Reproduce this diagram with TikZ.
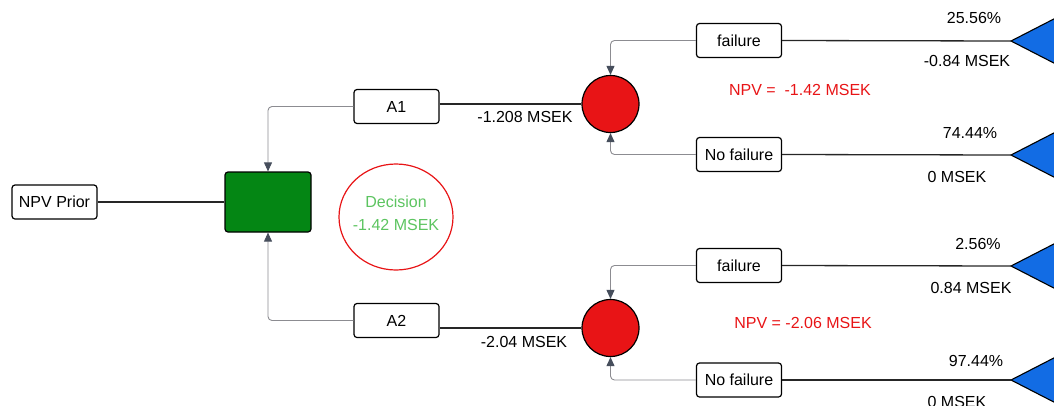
\documentclass[tikz,border=0pt]{standalone}
\usepackage{fontspec}
\setmainfont{Liberation Sans}
\usetikzlibrary{arrows.meta,shapes.geometric}
\definecolor{decgreen}{RGB}{4,134,20}
\definecolor{chancered}{RGB}{232,20,22}
\definecolor{leafblue}{RGB}{18,108,228}
\definecolor{linkgrey}{RGB}{140,140,145}
\definecolor{tipgrey}{RGB}{70,78,92}
\definecolor{txtgreen}{RGB}{92,196,96}
\tikzset{
  box/.style={draw=black, line width=1.2pt, rounded corners=3pt, fill=white,
    minimum width=85pt, minimum height=34pt, inner sep=0pt, font=\fontsize{16}{19}\selectfont},
  branch/.style={draw=black!85, line width=1.3pt},
  link/.style={draw=linkgrey, line width=0.9pt, rounded corners=4pt,
    -{Triangle[width=8pt,length=9pt,color=tipgrey]}},
  chance/.style={circle, draw=black, line width=1.2pt, fill=chancered, minimum size=57pt, inner sep=0pt},
  leaf/.style={draw=black, line width=1.1pt, fill=leafblue, line join=miter},
  lbl/.style={font=\fontsize{16}{19}\selectfont, inner sep=0pt},
  npv/.style={font=\fontsize{16}{19}\selectfont, text=chancered, inner sep=0pt}
}
\begin{document}
\begin{tikzpicture}[x=1pt,y=-1pt]
\useasboundingbox (0,0) rectangle (1054,405);
\clip (0,0) rectangle (1054,405);

% root and decision node
\node[box] (prior) at (54.5,202) {NPV Prior};
\node[draw=black, line width=1.2pt, rounded corners=3pt, fill=decgreen,
      minimum width=86pt, minimum height=60pt] (dec) at (268,202) {};
\draw[branch] (prior.east) -- (dec.west);

% decision value
\node[ellipse, draw=chancered, line width=1.2pt, minimum width=114pt, minimum height=106pt,
      inner sep=0pt] (decval) at (396,217) {};
\node[lbl, text=txtgreen, align=center] (dectxt) at (396,213.5)
  {Decision\\[4pt]-1.42 MSEK};

% alternatives
\node[box] (a1) at (396.5,106.5) {A1};
\node[box] (a2) at (396.5,320.5) {A2};
\draw[link] (a1.west) -| (dec.north);
\draw[link] (a2.west) -| (dec.south);

% chance nodes
\node[chance] (c1) at (610.5,104) {};
\node[chance] (c2) at (610.5,328) {};
\draw[branch] (a1.east |- c1) -- (c1.west);
\draw[branch] (a2.east |- c2) -- (c2.west);
\node[lbl] (v1) at (525,117) {-1.208 MSEK};
\node[lbl] (v2) at (524,342) {-2.04 MSEK};

% outcomes
\node[box] (f1) at (739,40.5) {failure};
\node[box] (n1) at (739,154.5) {No failure};
\node[box] (f2) at (739,265.5) {failure};
\node[box] (n2) at (739,380) {No failure};
\draw[link] (f1.west) -| (c1.north);
\draw[link] (n1.west) -| (c1.south);
\draw[link] (f2.west) -| (c2.north);
\draw[link] (n2.west) -| (c2.south);

\node[npv] (npv1) at (800,90) {NPV =\ \ -1.42 MSEK};
\node[npv] (npv2) at (803,323) {NPV = -2.06 MSEK};

% terminal triangles
\coordinate (t1) at (1011,41);
\coordinate (t2) at (1011,155);
\coordinate (t3) at (1011,266);
\coordinate (t4) at (1011,380);
\foreach \t in {t1,t2,t3,t4}{
  \draw[leaf] (\t) -- ++(72,-37) -- ++(0,74) -- cycle;
}
\draw[branch] (f1.east) -- (t1);
\draw[branch] (n1.east) -- (t2);
\draw[branch] (f2.east) -- (t3);
\draw[branch] (n2.east) -- (t4);

% payoff labels
\node[lbl] (p1) at (974,18) {25.56\%};
\node[lbl] (m1) at (967,61) {-0.84 MSEK};
\node[lbl] (p2) at (970,133) {74.44\%};
\node[lbl] (m2) at (957,177) {0 MSEK};
\node[lbl] (p3) at (978,244) {2.56\%};
\node[lbl] (m3) at (971,288) {0.84 MSEK};
\node[lbl] (p4) at (976,361) {97.44\%};
\node[lbl] (m4) at (957,402) {0 MSEK};
\end{tikzpicture}
\end{document}
